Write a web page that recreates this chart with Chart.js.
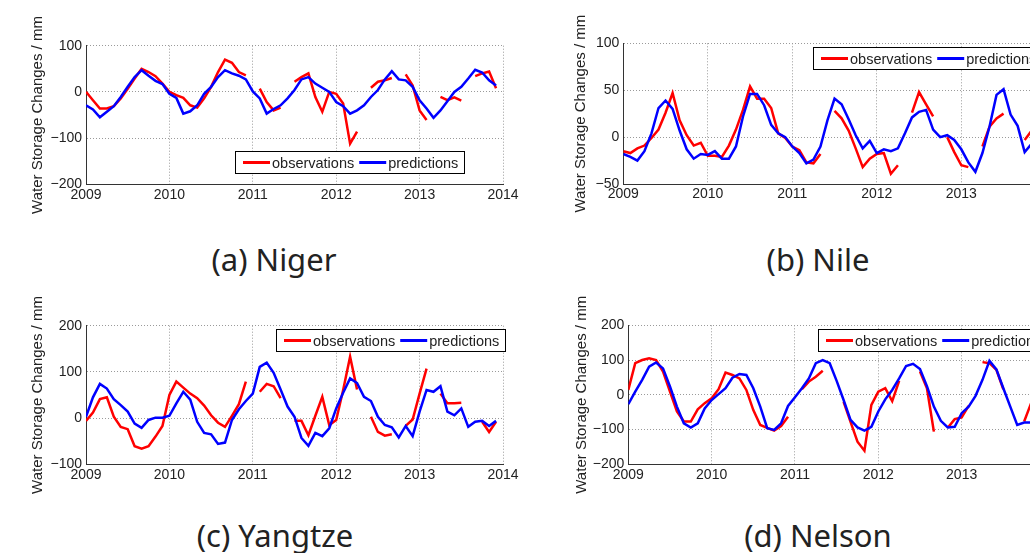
<!DOCTYPE html>
<html>
<head>
<meta charset="utf-8">
<script src="https://cdn.jsdelivr.net/npm/chart.js@4.4.1/dist/chart.umd.min.js"></script>
<style>
  html, body { margin: 0; padding: 0; background: #fff; overflow: hidden; }
  body { width: 1030px; height: 553px; position: relative; }
  canvas { position: absolute; }
  .cap {
    position: absolute; white-space: nowrap; transform: translateX(-50%);
    font-family: 'Noto Sans', sans-serif; font-size: 31px; line-height: 31px; color: #222;
  }
</style>
</head>
<body>
<canvas id="niger"   width="525" height="215" style="left:0;top:0"></canvas>
<canvas id="nile"    width="500" height="215" style="left:570px;top:0"></canvas>
<canvas id="yangtze" width="525" height="215" style="left:0;top:280px"></canvas>
<canvas id="nelson"  width="500" height="215" style="left:570px;top:280px"></canvas>

<div class="cap" style="left:274px;top:244px">(a) Niger</div>
<div class="cap" style="left:818px;top:244px">(b) Nile</div>
<div class="cap" style="left:275px;top:520px">(c) Yangtze</div>
<div class="cap" style="left:818px;top:520px">(d) Nelson</div>

<script>
// ─── data (monthly, Jan 2009 – Dec 2013) ──────────────────────────────────
const START_YEAR = 2009;
const YEAR_TICKS = [2009, 2010, 2011, 2012, 2013, 2014];
const LEGEND_LABELS = ['observations', 'predictions'];
const Y_TITLE = 'Water Storage Changes / mm';

const nigerObs = [0, -18, -36, -36, -31, -14, 7, 29, 50, 43, 34, 18,
  0, -7, -13, -29, -34, -14, 11, 43, 70, 63, 43, 36,
  null, 7, -22, -40, -34, null, 22, 32, 40, -11, -43, 0,
  -4, -25, -112, -86, null, 9, 22, 25, 30, null, 38, 14,
  -40, -61, null, -11, -18, -12, -19, null, 34, 40, 44, 8];
const nigerPred = [-29, -38, -55, -43, -31, -11, 11, 32, 47, 35, 24, 17,
  -4, -13, -47, -42, -29, -4, 11, 32, 47, 40, 35, 27,
  1, -14, -47, -37, -29, -14, 4, 27, 32, 18, 9, 0,
  -22, -31, -47, -40, -29, -11, 4, 27, 45, 27, 25, 11,
  -18, -36, -56, -40, -20, 0, 11, 29, 48, 42, 25, 14];

const nileObs = [-15, -17, -12, -9, -1, 8, 26, 47, 18, 2, -9, -6,
  -20, -20, -21, -9, 8, 29, 54, 41, 41, 31, 4, -1,
  -10, -14, -27, -28, -18, null, 28, 20, 7, -12, -32, -23,
  -18, -17, -39, -30, null, 26, 48, 35, 22, null, 0, -16,
  -30, -32, null, -10, 11, 20, 25, null, null, -3, 7, 20];
const nilePred = [-18, -21, -25, -15, 4, 31, 39, 30, 7, -13, -23, -18,
  -19, -15, -23, -23, -10, 22, 46, 46, 34, 13, 4, 0,
  -10, -17, -28, -24, -10, 18, 41, 35, 19, 2, -12, -4,
  -17, -13, -15, -12, 4, 21, 27, 29, 8, 0, 2, -3,
  -13, -27, -37, -17, 11, 45, 51, 24, 12, -16, -7, -2];

const yangtzeObs = [-6, 12, 41, 45, 3, -19, -24, -61, -66, -61, -40, -17,
  50, 79, 66, 53, 43, 27, 6, -10, -19, 5, 30, 79,
  null, 57, 74, 69, 43, null, -6, -6, -37, 5, 46, -15,
  -4, 61, 133, 62, null, 3, -30, -38, -35, null, -17, -3,
  53, 107, null, 53, 32, 32, 33, null, null, -8, -30, -8];
const yangtzePred = [3, 45, 74, 64, 41, 28, 14, -12, -21, -4, 1, 1,
  5, 32, 57, 40, -8, -32, -35, -56, -53, -4, 19, 37,
  53, 111, 120, 98, 62, 25, 3, -43, -60, -32, -39, -22,
  21, 55, 86, 76, 46, 37, 3, -15, -20, -42, -17, -39,
  14, 61, 57, 69, 14, 6, 21, -19, -8, -6, -17, -6];

const nelsonObs = [14, 91, 100, 105, 100, 67, 9, -48, -77, -77, -42, -24,
  -10, 16, 64, 57, 47, 14, -44, -87, -95, -103, -90, -63,
  null, 16, 38, 52, 69, null, null, -20, -78, -135, -161, -29,
  9, 19, -18, 40, null, null, 67, 19, -106, null, -95, -70,
  -65, -32, null, 94, 91, 72, 16, null, null, -77, -24, 20];
const nelsonPred = [-27, 9, 43, 81, 93, 76, 24, -34, -82, -94, -82, -39,
  -15, 2, 19, 49, 60, 57, 19, -34, -96, -101, -82, -32,
  -7, 19, 47, 91, 100, 91, 40, -15, -72, -94, -103, -92,
  -48, -13, 14, 47, 83, 89, 74, 25, -34, -75, -94, -92,
  -53, -34, -3, 43, 98, 73, 19, -34, -87, -80, -80, -60];

// ─── style ────────────────────────────────────────────────────────────────
const CC = {
  obs:  '#ff0000',
  pred: '#0000ff',
  text: '#222222',
  axis: '#333333',
  grid: '#9a9a9a',
};
const FONT = "'Liberation Sans', Arial, sans-serif";
const LEG_FONT = "14.5px 'Liberation Sans', Arial, sans-serif";

Chart.defaults.font.family = FONT;
Chart.defaults.color = CC.text;

const minus = v => (v < 0 ? '\u2212' + Math.abs(v) : String(v));
const toPoints = arr => arr.map((y, i) => ({ x: START_YEAR + i / 12, y }));

// boxed MATLAB-style legend drawn at a fixed spot inside the axes
const legendBox = {
  id: 'legendBox',
  afterDatasetsDraw(chart, args, o) {
    if (!o || o.x == null) return;
    const ctx = chart.ctx;
    ctx.save();
    ctx.font = LEG_FONT;
    const w1 = ctx.measureText(LEGEND_LABELS[0]).width;
    const w2 = ctx.measureText(LEGEND_LABELS[1]).width;
    const sw = 27, h = 22;
    const w = 8 + sw + 2 + w1 + 5 + sw + 2 + w2 + 6;
    ctx.fillStyle = '#fff';
    ctx.fillRect(o.x, o.y, w, h);
    ctx.strokeStyle = '#000';
    ctx.lineWidth = 1;
    ctx.strokeRect(Math.round(o.x) + 0.5, Math.round(o.y) + 0.5, Math.round(w), h);
    let cx = o.x + 8;
    const cy = o.y + h / 2 + 0.5;
    [[CC.obs, LEGEND_LABELS[0], w1], [CC.pred, LEGEND_LABELS[1], w2]].forEach(([c, t, tw]) => {
      ctx.strokeStyle = c;
      ctx.lineWidth = 3;
      ctx.beginPath(); ctx.moveTo(cx, cy); ctx.lineTo(cx + sw, cy); ctx.stroke();
      cx += sw + 2;
      ctx.fillStyle = CC.text;
      ctx.textBaseline = 'middle';
      ctx.fillText(t, cx, cy + 1);
      cx += tw + 5;
    });
    ctx.restore();
  },
};

function makePanel(id, obs, pred, cfg) {
  const ctx = document.getElementById(id).getContext('2d');
  return new Chart(ctx, {
    type: 'line',
    data: {
      datasets: [
        { label: LEGEND_LABELS[0], data: toPoints(obs), borderColor: CC.obs, borderWidth: 2.5,
          pointRadius: 0, tension: 0, spanGaps: false, order: 1 },
        { label: LEGEND_LABELS[1], data: toPoints(pred), borderColor: CC.pred, borderWidth: 2.5,
          pointRadius: 0, tension: 0, order: 0 },
      ],
    },
    options: {
      responsive: false,
      animation: false,
      layout: { padding: { top: cfg.top, right: cfg.right, left: 0, bottom: 0 } },
      plugins: {
        legend: { display: false },
        tooltip: { enabled: false },
        legendBox: { x: cfg.legX, y: cfg.legY },
      },
      scales: {
        x: {
          type: 'linear', min: YEAR_TICKS[0], max: YEAR_TICKS[YEAR_TICKS.length - 1],
          afterBuildTicks: s => { s.ticks = YEAR_TICKS.map(v => ({ value: v })); },
          afterFit: s => { s.height = cfg.xh; },
          grid:   { color: CC.grid, drawTicks: false },
          border: { color: CC.axis, width: 1, dash: [1, 2] },
          ticks:  { autoSkip: false, maxRotation: 0, padding: 2, color: CC.text,
                    font: { size: 14 }, callback: v => String(v) },
        },
        y: {
          min: cfg.yMin, max: cfg.yMax,
          afterFit: s => { s.width = cfg.yw; },
          grid:   { color: CC.grid, drawTicks: false },
          border: { color: CC.axis, width: 1, dash: [1, 2] },
          ticks:  { stepSize: cfg.step, padding: 4, color: CC.text, font: { size: 14 }, callback: minus },
          title:  { display: true, text: Y_TITLE, color: CC.text, font: { size: 15 },
                    padding: { top: cfg.tpad, bottom: 0 } },
        },
      },
    },
    plugins: [legendBox],
  });
}

makePanel('niger', nigerObs, nigerPred,
  { yMin: -200, yMax: 100, step: 100, top: 45.7, right: 22, yw: 86, xh: 30.7, tpad: 29, legX: 235, legY: 151 });
makePanel('nile', nileObs, nilePred,
  { yMin: -50, yMax: 100, step: 50, top: 43.3, right: 24.2, yw: 53.3, xh: 31, tpad: 2, legX: 243, legY: 47 });
makePanel('yangtze', yangtzeObs, yangtzePred,
  { yMin: -100, yMax: 200, step: 100, top: 45.7, right: 22, yw: 86, xh: 30.7, tpad: 29, legX: 276, legY: 49 });
makePanel('nelson', nelsonObs, nelsonPred,
  { yMin: -200, yMax: 200, step: 100, top: 45.3, right: 25, yw: 58.3, xh: 30.7, tpad: 2.5, legX: 248, legY: 49 });
</script>
</body>
</html>
